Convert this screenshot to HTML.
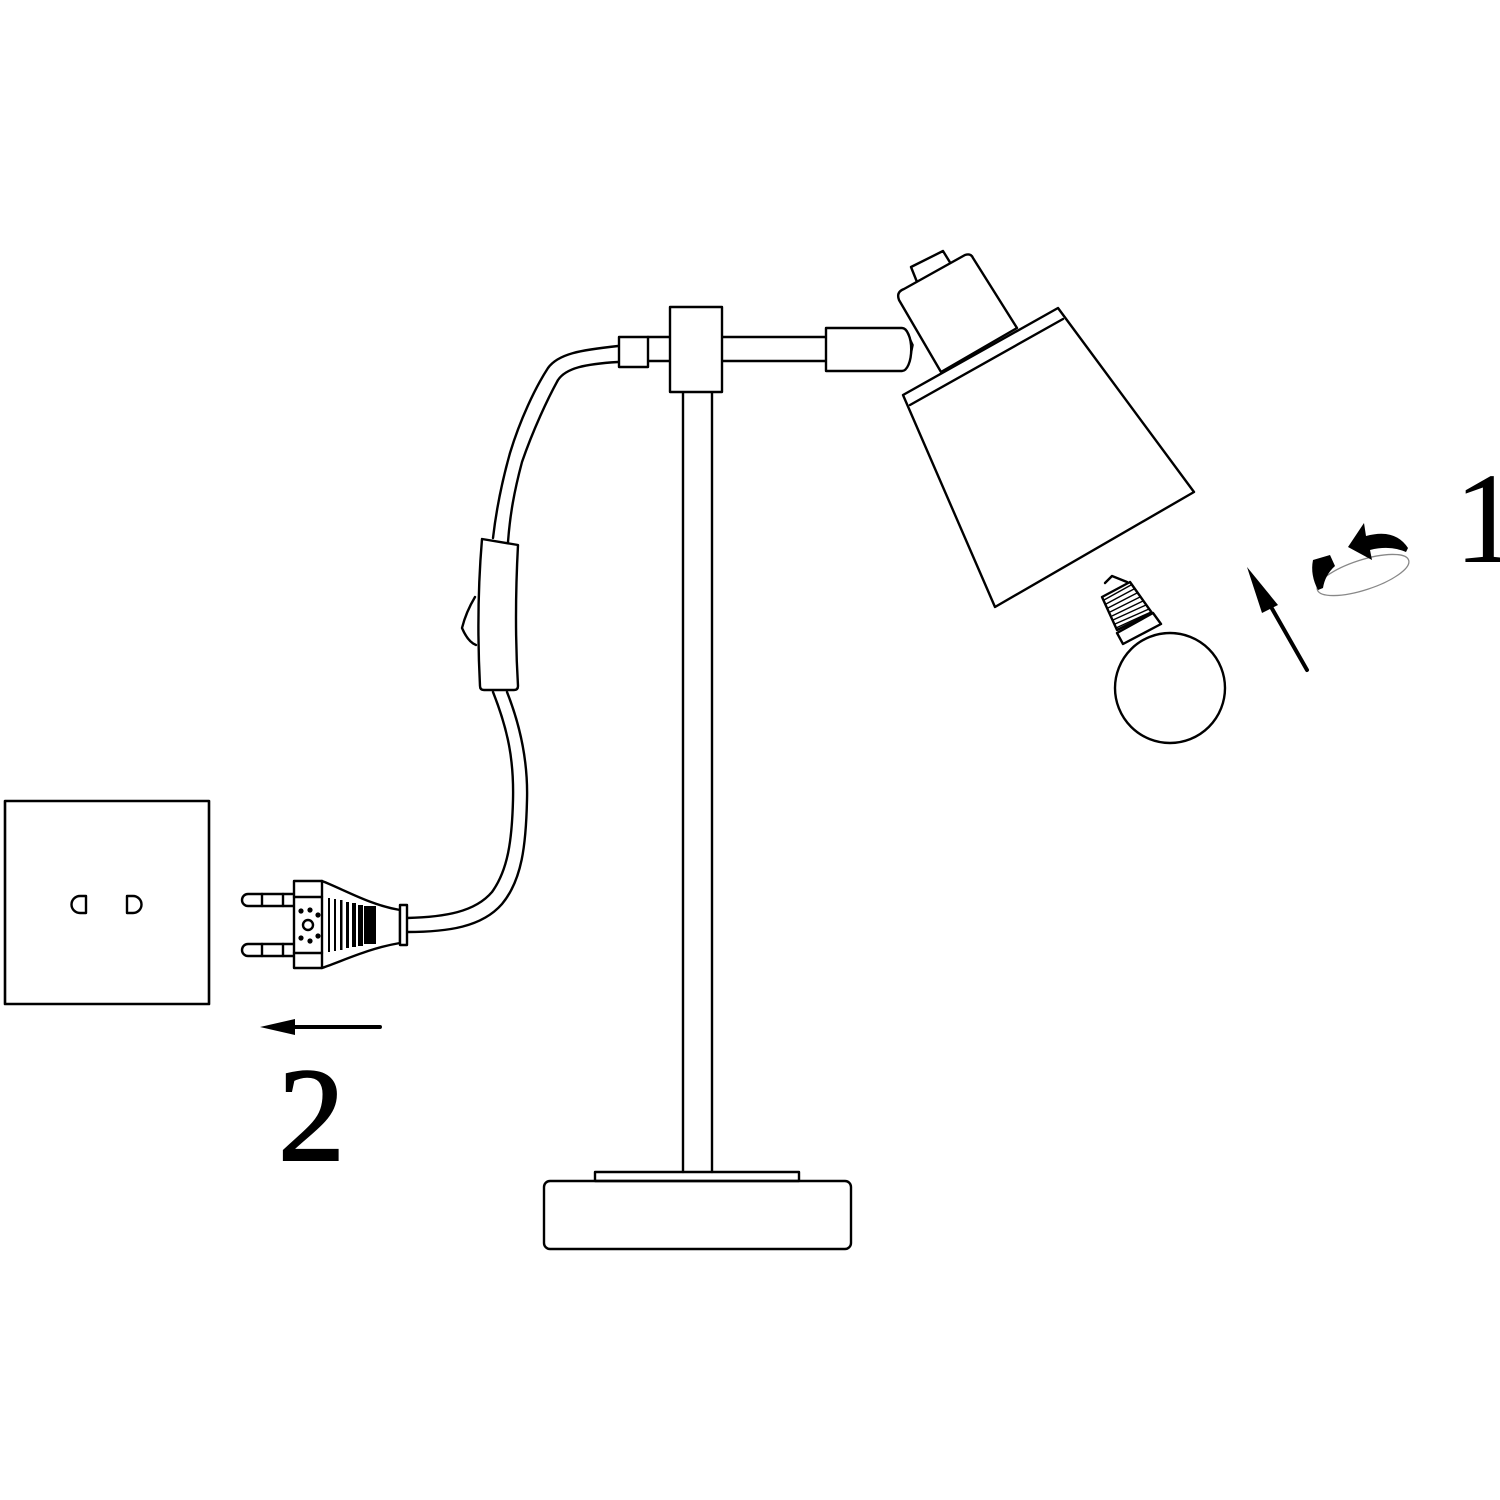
<!DOCTYPE html>
<html><head><meta charset="utf-8"><style>
html,body{margin:0;padding:0;background:#fff;}
svg{display:block;}
</style></head><body>
<svg width="1500" height="1500" viewBox="0 0 1500 1500" xmlns="http://www.w3.org/2000/svg">
<g fill="none" stroke="#000" stroke-width="2.4" stroke-linejoin="round" stroke-linecap="round">
<rect x="5" y="801" width="204" height="203" stroke-width="2.6"/>
<path d="M86,896 V913 H80 A8.5,8.5 0 0 1 80,896 Z"/>
<path d="M127,896 V913 H133 A8.5,8.5 0 0 0 133,896 Z"/>
<line x1="292" y1="1027" x2="380" y2="1027" stroke-width="4"/>
<line x1="683" y1="392" x2="683" y2="1172"/>
<line x1="712" y1="392" x2="712" y2="1172"/>
<rect x="595" y="1172" width="204" height="9"/>
<rect x="544" y="1181" width="307" height="68" rx="6"/>
<line x1="648" y1="337" x2="826" y2="337"/>
<line x1="648" y1="361" x2="826" y2="361"/>
<rect x="619" y="337" width="29" height="30" fill="#fff"/>
<rect x="670" y="307" width="52" height="85" fill="#fff"/>
<path d="M826,328 H902 A9,21 0 0 1 902,371 H826 Z" fill="#fff"/>
<path d="M906,330 L913,345 L910,360" stroke-width="1.6"/>
<path d="M911,267 L943,251 L951,264 L917,282 Z"/>
<path d="M899,300 Q896,292 904,289 L965,255 Q971,253 973,258 L1017,328 L941,372 Z" fill="#fff"/>
<path d="M903,395 L1058,308 L1194,492 L995,607 Z" fill="#fff"/>
<line x1="910" y1="405" x2="1063" y2="319"/>
<path d="M618,346 C580,350 558,354 548,368 C535,388 520,420 510,453 C501,485 496,512 493,538"/>
<path d="M618,362 C585,364 566,368 558,380 C548,398 533,430 522,462 C514,492 510,515 508,542"/>
<path d="M482,539 L518,545 Q514,620 518,686 Q518,690 514,690 L484,690 Q480,690 480,686 Q476,610 482,539 Z" fill="#fff"/>
<path d="M475,597 Q466,612 462,628 Q468,642 476,645"/>
<path d="M493,692 C508,730 514,760 513,800 C512,840 508,870 492,892 C475,912 445,917 407,918"/>
<path d="M507,692 C522,730 528,765 527,800 C526,845 522,880 502,904 C482,927 448,932 407,932"/>
<path d="M294,894 H248 A6,6 0 0 0 248,906 H294"/>
<path d="M294,944 H248 A6,6 0 0 0 248,956 H294"/>
<line x1="262" y1="894" x2="262" y2="906"/><line x1="283" y1="894" x2="283" y2="906"/>
<line x1="262" y1="944" x2="262" y2="956"/><line x1="283" y1="944" x2="283" y2="956"/>
<rect x="294" y="881" width="28" height="87" fill="#fff"/>
<line x1="294" y1="897" x2="322" y2="897"/>
<line x1="294" y1="953" x2="322" y2="953"/>
<path d="M322,881 C345,890 370,905 400,910 L400,943 C370,948 345,960 322,968"/>
<rect x="400" y="905" width="7" height="40" fill="#fff"/>
<circle cx="308" cy="925" r="5"/>
<circle cx="1170" cy="688" r="55" fill="#fff"/>
<path d="M1117,633 L1153,613 L1161,624 L1123,644 Z" fill="#fff"/>
<path d="M1102,597 L1130,582 L1152,613 L1117,630 Z" fill="#fff"/>
<path d="M1105,583 L1112,576 L1127,582"/>
<ellipse cx="1363" cy="575" rx="48" ry="15" transform="rotate(-18 1363 575)" stroke="#888" stroke-width="1.3"/>
<line x1="1307" y1="670" x2="1266" y2="598" stroke-width="4"/>
</g>
<g fill="#000" stroke="none">
<polygon points="260,1027 295,1019 295,1035"/>
<circle cx="301" cy="911" r="2.6"/><circle cx="310" cy="910" r="2.6"/><circle cx="318" cy="915" r="2.6"/>
<circle cx="301" cy="938" r="2.6"/><circle cx="310" cy="941" r="2.6"/><circle cx="318" cy="936" r="2.6"/>
<rect x="328" y="898" width="2" height="54"/><rect x="334" y="899" width="2" height="52"/>
<rect x="340" y="900" width="2.5" height="50"/><rect x="346" y="902" width="3" height="46"/>
<rect x="352" y="903" width="4" height="44"/><rect x="358" y="905" width="5" height="41"/>
<rect x="364" y="906" width="12" height="38"/>
<polygon points="1247,567 1262,613 1278,605"/>
<path d="M1313,560 L1330,555 L1335,566 Q1325,575 1323,588 L1318,590 Q1310,575 1313,560 Z"/>
<path d="M1348,547 L1364,523 L1366,536 Q1395,528 1408,548 L1406,552 Q1390,545 1370,550 L1372,560 Z"/>
</g>
<g stroke="#000" stroke-width="1.4">
<line x1="1104" y1="600" x2="1131" y2="585"/><line x1="1106" y1="604" x2="1134" y2="589"/>
<line x1="1108" y1="608" x2="1137" y2="593"/><line x1="1110" y1="612" x2="1140" y2="597"/>
<line x1="1112" y1="616" x2="1143" y2="601"/><line x1="1113" y1="620" x2="1146" y2="605"/>
<line x1="1115" y1="624" x2="1149" y2="609"/><line x1="1116" y1="628" x2="1151" y2="612"/>
</g>
<text x="1454" y="562" font-family="Liberation Serif, serif" font-size="130" fill="#000">1</text>
<text x="278" y="1160" font-family="Liberation Serif, serif" font-size="134" fill="#000" stroke="#000" stroke-width="2">2</text>
</svg>
</body></html>
